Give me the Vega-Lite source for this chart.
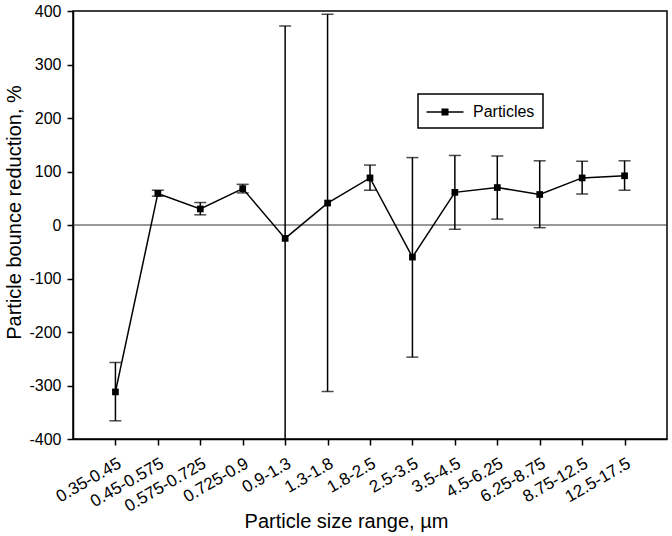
{
  "$schema": "https://vega.github.io/schema/vega-lite/v6.json",
  "width": 594,
  "height": 428,
  "autosize": "none",
  "padding": {"left": 73, "top": 11, "right": 5, "bottom": 97},
  "config": {
    "font": "Liberation Sans",
    "view": {"stroke": "black", "strokeWidth": 1.5},
    "axis": {
      "grid": false,
      "domainColor": "black",
      "domainWidth": 1.5,
      "tickColor": "black",
      "tickWidth": 1.5,
      "tickSize": 6,
      "labelColor": "black",
      "titleColor": "black",
      "labelFontSize": 16,
      "titleFontSize": 20,
      "titleFontWeight": "normal"
    },
    "legend": {
      "orient": "none",
      "legendX": 345,
      "legendY": 83,
      "strokeColor": "black",
      "strokeWidth": 1.5,
      "padding": 8,
      "labelFontSize": 16,
      "labelColor": "black",
      "symbolType": "M-2,0H2M-0.3,-0.3H0.3V0.3H-0.3Z",
      "symbolSize": 342,
      "symbolStrokeWidth": 1.5,
      "symbolStrokeColor": "black",
      "symbolFillColor": "black",
      "symbolOffset": 9,
      "labelOffset": 18
    }
  },
  "data": {
    "values": [
      {"size": "0.35-0.45", "value": -312, "lo": -366, "hi": -257},
      {"size": "0.45-0.575", "value": 59, "lo": 54, "hi": 65},
      {"size": "0.575-0.725", "value": 30, "lo": 19, "hi": 42},
      {"size": "0.725-0.9", "value": 68, "lo": 60, "hi": 76},
      {"size": "0.9-1.3", "value": -25, "lo": -422, "hi": 372},
      {"size": "1.3-1.8", "value": 41, "lo": -311, "hi": 394},
      {"size": "1.8-2.5", "value": 88, "lo": 65, "hi": 112},
      {"size": "2.5-3.5", "value": -60, "lo": -247, "hi": 126},
      {"size": "3.5-4.5", "value": 61, "lo": -8, "hi": 130},
      {"size": "4.5-6.25", "value": 70, "lo": 11, "hi": 129},
      {"size": "6.25-8.75", "value": 57, "lo": -5, "hi": 120},
      {"size": "8.75-12.5", "value": 88, "lo": 58, "hi": 119},
      {"size": "12.5-17.5", "value": 92, "lo": 65, "hi": 120}
    ]
  },
  "layer": [
    {
      "data": {"values": [{"ref": 0}]},
      "mark": {"type": "rule", "color": "#333", "strokeWidth": 1},
      "encoding": {
        "y": {"field": "ref", "type": "quantitative", "scale": {"domain": [-400, 400], "nice": false}}
      }
    },
    {
      "mark": {"type": "rule", "color": "black", "strokeWidth": 1.5, "clip": true},
      "encoding": {
        "x": {"field": "size", "type": "nominal", "sort": null},
        "y": {"field": "lo", "type": "quantitative"},
        "y2": {"field": "hi"}
      }
    },
    {
      "mark": {"type": "tick", "color": "black", "orient": "horizontal", "size": 12, "thickness": 1.5, "clip": true},
      "encoding": {
        "x": {"field": "size", "type": "nominal", "sort": null},
        "y": {"field": "lo", "type": "quantitative"}
      }
    },
    {
      "mark": {"type": "tick", "color": "black", "orient": "horizontal", "size": 12, "thickness": 1.5, "clip": true},
      "encoding": {
        "x": {"field": "size", "type": "nominal", "sort": null},
        "y": {"field": "hi", "type": "quantitative"}
      }
    },
    {
      "mark": {"type": "line", "strokeWidth": 1.5},
      "encoding": {
        "x": {"field": "size", "type": "nominal", "sort": null},
        "y": {"field": "value", "type": "quantitative"},
        "color": {"datum": "Particles", "type": "nominal", "scale": {"range": ["black"]}, "legend": {"title": null}}
      }
    },
    {
      "mark": {"type": "point", "shape": "square", "filled": true, "size": 45, "color": "black", "opacity": 1},
      "encoding": {
        "x": {"field": "size", "type": "nominal", "sort": null,
          "scale": {"type": "point", "padding": 1, "align": 0.5},
          "axis": {
            "title": "Particle size range, µm",
            "labelAngle": -30,
            "labelAlign": "right",
            "labelBaseline": "top",
            "labelFontSize": 17,
            "labelPadding": 10,
            "labelDx": 3,
            "titleX": 273,
            "titleY": 88,
            "titleBaseline": "alphabetic"
          }
        },
        "y": {"field": "value", "type": "quantitative",
          "scale": {"domain": [-400, 400], "nice": false},
          "axis": {
            "values": [-400, -300, -200, -100, 0, 100, 200, 300, 400],
            "labelExpr": "replace(datum.label, '\u2212', '-')",
            "title": "Particle bounce reduction, %",
            "labelPadding": 6,
            "titleX": -53,
            "titleY": 201,
            "titleBaseline": "alphabetic"
          }
        }
      }
    }
  ]
}
